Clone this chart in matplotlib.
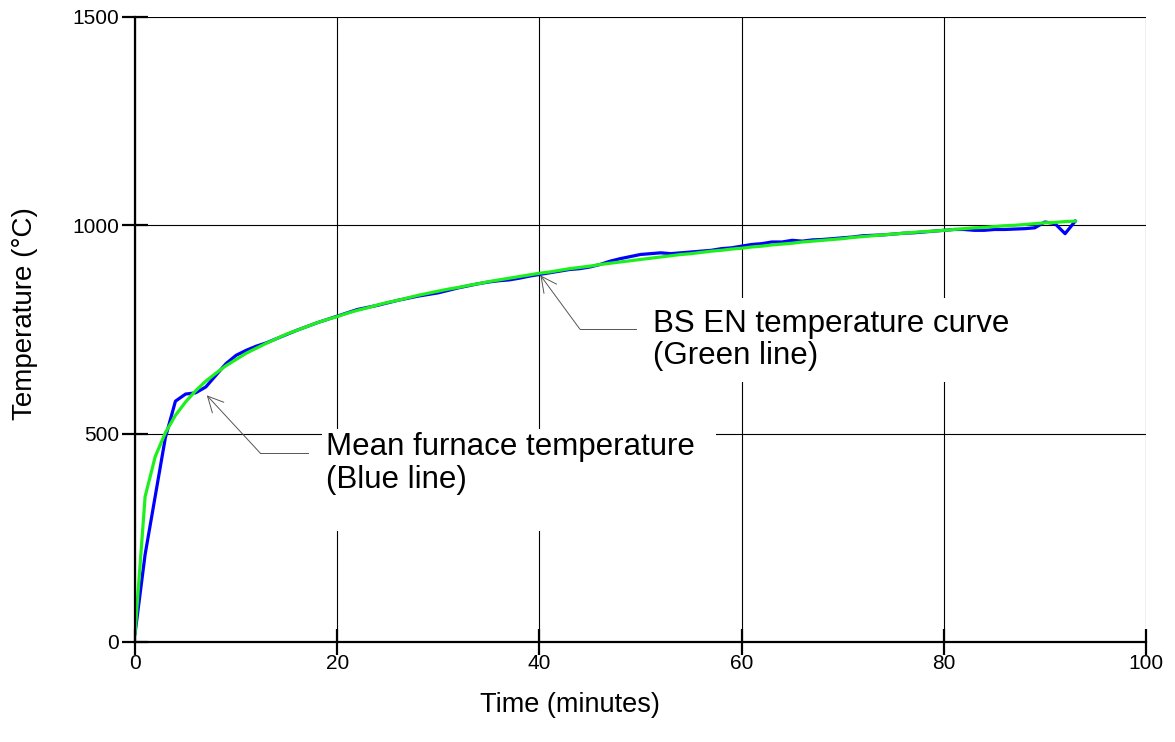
import matplotlib
matplotlib.use("Agg")
from matplotlib import pyplot as plt

# minutes from start of test
minutes = list(range(0, 94))

# mean furnace temperature (blue)
furnace_temp = [20, 210, 350, 490, 578, 595, 598, 612, 640, 668,
                688, 700, 710, 718, 728, 738, 748, 757, 766, 774,
                782, 790, 798, 803, 808, 814, 820, 825, 830, 834,
                838, 844, 850, 855, 860, 864, 867, 869, 873, 878,
                882, 886, 890, 894, 896, 900, 906, 914, 920, 925,
                930, 932, 934, 932, 934, 936, 938, 940, 944, 946,
                950, 954, 956, 960, 960, 964, 962, 965, 966, 968,
                970, 972, 975, 976, 977, 979, 981, 982, 984, 986,
                988, 990, 990, 988, 988, 990, 990, 991, 992, 994,
                1008, 1004, 980, 1010]

# BS EN standard temperature curve (green)
standard_temp = [20, 349, 445, 502, 544, 576, 603, 626, 645, 663,
                 678, 693, 705, 717, 728, 739, 748, 757, 766, 774,
                 781, 789, 796, 802, 809, 815, 820, 826, 832, 837,
                 842, 847, 851, 856, 860, 865, 869, 873, 877, 881,
                 885, 888, 892, 896, 899, 902, 906, 909, 912, 915,
                 918, 921, 924, 927, 930, 932, 935, 938, 940, 943,
                 945, 948, 950, 953, 955, 957, 960, 962, 964, 966,
                 968, 971, 973, 975, 977, 979, 981, 983, 985, 986,
                 988, 990, 992, 994, 995, 997, 999, 1000, 1002, 1004,
                 1006, 1007, 1009, 1010]

x_ticks = [0, 20, 40, 60, 80, 100]
y_ticks = [0, 500, 1000, 1500]

plt.rcParams['font.family'] = ['Liberation Sans', 'DejaVu Sans']

fig = plt.figure(figsize=(11.75, 7.42), dpi=100)
ax = fig.add_axes([0.1149, 0.1348, 0.8604, 0.8423])

ax.plot(minutes, furnace_temp, color='#0000ff', lw=2.3, zorder=3)
ax.plot(minutes, standard_temp, color='#1ef01e', lw=2.3, zorder=4)

ax.set_xlim(0, 100)
ax.set_ylim(0, 1500)
ax.set_xticks(x_ticks)
ax.set_yticks(y_ticks)
ax.grid(True, color='black', lw=0.8, zorder=1)
ax.set_axisbelow(True)

for s in ['top', 'right']:
    ax.spines[s].set_visible(False)
for s in ['left', 'bottom']:
    ax.spines[s].set_linewidth(1.6)
    ax.spines[s].set_zorder(5)

ax.tick_params(direction='inout', length=19, width=1.6, labelsize=15, pad=2)
ax.tick_params(axis='x', pad=-1)

ax.set_xlabel('Time (minutes)', fontsize=19.5)
ax.xaxis.set_label_coords(0.43, -0.08)
ax.set_ylabel('Temperature (°C)', fontsize=20)
ax.yaxis.set_label_coords(-0.096, 0.526)

# annotations with elbow leaders (trailing spaces / blank line widen the white box)
box = dict(boxstyle='square,pad=0.12', fc='white', ec='none')
ax.text(18.9, 503, 'Mean furnace temperature  \n(Blue line)\n ', fontsize=22.5,
        ha='left', va='top', linespacing=1.1, bbox=box, zorder=6)
ax.annotate('', xy=(7.1, 592), xytext=(12.4, 453),
            arrowprops=dict(arrowstyle='->', color='#555555', lw=0.7,
                            shrinkA=0, shrinkB=0, mutation_scale=28), zorder=7)
ax.plot([12.4, 17.1], [453, 453], color='#555555', lw=0.7, zorder=7)

ax.text(51.2, 799, 'BS EN temperature curve\n(Green line)', fontsize=22.5,
        ha='left', va='top', linespacing=1.1,
        bbox=dict(boxstyle='square,pad=0.35', fc='white', ec='none'), zorder=6)
ax.annotate('', xy=(40.1, 880), xytext=(44.0, 751),
            arrowprops=dict(arrowstyle='->', color='#555555', lw=0.7,
                            shrinkA=0, shrinkB=0, mutation_scale=28), zorder=7)
ax.plot([44.0, 49.6], [751, 751], color='#555555', lw=0.7, zorder=7)

fig.savefig('out.png', dpi=100)
